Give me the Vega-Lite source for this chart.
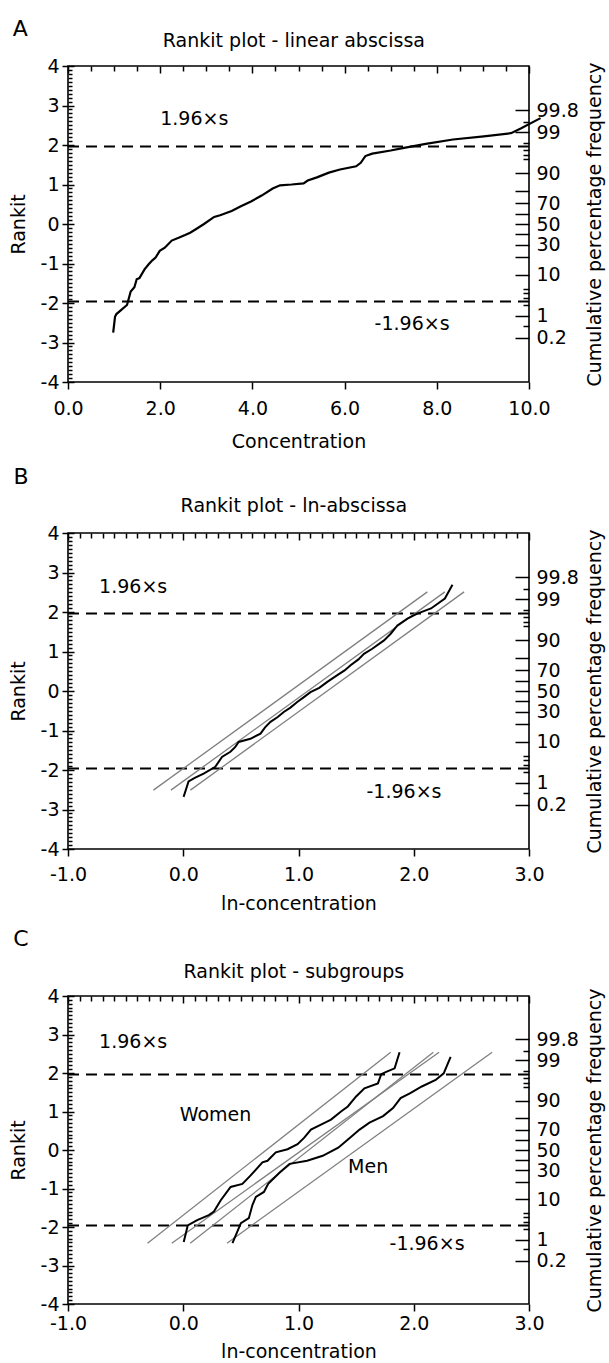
{
  "$schema": "https://vega.github.io/schema/vega-lite/v6.json",
  "padding": {"left": 8, "top": 17, "right": 2, "bottom": 2},
  "spacing": 13,
  "config": {
    "font": "DejaVu Sans",
    "view": {"stroke": "black", "strokeWidth": 1.6},
    "axis": {"grid": false, "domain": false, "labelFont": "DejaVu Sans", "labelFontSize": 19, "labelColor": "black", "titleFont": "DejaVu Sans", "titleFontSize": 19, "titleFontWeight": "normal", "titleColor": "black", "tickColor": "black", "tickWidth": 1.5, "labelFlush": false, "labelOverlap": false},
    "text": {"font": "DejaVu Sans", "color": "black"}
  },
  "datasets": {
    "one": [{}],
    "limits": [{"y": 1.96}, {"y": -1.96}],
    "curveA": [
      {"conc": 0.98, "rankit": -2.75}, {"conc": 1.02, "rankit": -2.35}, {"conc": 1.05, "rankit": -2.28}, {"conc": 1.15, "rankit": -2.18},
      {"conc": 1.28, "rankit": -2.05}, {"conc": 1.32, "rankit": -1.88}, {"conc": 1.36, "rankit": -1.71}, {"conc": 1.44, "rankit": -1.6},
      {"conc": 1.49, "rankit": -1.4}, {"conc": 1.55, "rankit": -1.37}, {"conc": 1.66, "rankit": -1.15}, {"conc": 1.75, "rankit": -1.02},
      {"conc": 1.83, "rankit": -0.92}, {"conc": 1.9, "rankit": -0.85}, {"conc": 1.99, "rankit": -0.68}, {"conc": 2.1, "rankit": -0.6},
      {"conc": 2.25, "rankit": -0.42}, {"conc": 2.4, "rankit": -0.35}, {"conc": 2.54, "rankit": -0.28}, {"conc": 2.65, "rankit": -0.22},
      {"conc": 2.79, "rankit": -0.12}, {"conc": 2.95, "rankit": 0.0}, {"conc": 3.17, "rankit": 0.18}, {"conc": 3.3, "rankit": 0.22},
      {"conc": 3.55, "rankit": 0.33}, {"conc": 3.75, "rankit": 0.45}, {"conc": 3.97, "rankit": 0.57}, {"conc": 4.2, "rankit": 0.72},
      {"conc": 4.44, "rankit": 0.9}, {"conc": 4.6, "rankit": 0.98}, {"conc": 4.85, "rankit": 1.0}, {"conc": 5.11, "rankit": 1.03},
      {"conc": 5.2, "rankit": 1.1}, {"conc": 5.4, "rankit": 1.18}, {"conc": 5.66, "rankit": 1.3}, {"conc": 5.9, "rankit": 1.38},
      {"conc": 6.25, "rankit": 1.46}, {"conc": 6.35, "rankit": 1.55}, {"conc": 6.45, "rankit": 1.72}, {"conc": 6.6, "rankit": 1.78},
      {"conc": 7.0, "rankit": 1.86}, {"conc": 7.26, "rankit": 1.92}, {"conc": 7.76, "rankit": 2.03}, {"conc": 8.35, "rankit": 2.14},
      {"conc": 9.02, "rankit": 2.22}, {"conc": 9.61, "rankit": 2.3}, {"conc": 9.82, "rankit": 2.42}, {"conc": 10.25, "rankit": 2.68}
    ],
    "curveB": [
      {"lnc": 0.003, "rankit": -2.68}, {"lnc": 0.046, "rankit": -2.29}, {"lnc": 0.1, "rankit": -2.2}, {"lnc": 0.177, "rankit": -2.09},
      {"lnc": 0.278, "rankit": -1.92}, {"lnc": 0.336, "rankit": -1.67}, {"lnc": 0.409, "rankit": -1.54}, {"lnc": 0.45, "rankit": -1.42},
      {"lnc": 0.481, "rankit": -1.29}, {"lnc": 0.583, "rankit": -1.21}, {"lnc": 0.67, "rankit": -1.08}, {"lnc": 0.71, "rankit": -0.92},
      {"lnc": 0.757, "rankit": -0.78}, {"lnc": 0.82, "rankit": -0.66}, {"lnc": 0.872, "rankit": -0.53}, {"lnc": 0.93, "rankit": -0.42},
      {"lnc": 0.989, "rankit": -0.28}, {"lnc": 1.05, "rankit": -0.15}, {"lnc": 1.104, "rankit": -0.03}, {"lnc": 1.18, "rankit": 0.08},
      {"lnc": 1.25, "rankit": 0.23}, {"lnc": 1.337, "rankit": 0.4}, {"lnc": 1.4, "rankit": 0.52}, {"lnc": 1.452, "rankit": 0.65},
      {"lnc": 1.52, "rankit": 0.8}, {"lnc": 1.568, "rankit": 0.94}, {"lnc": 1.64, "rankit": 1.07}, {"lnc": 1.742, "rankit": 1.28},
      {"lnc": 1.8, "rankit": 1.45}, {"lnc": 1.858, "rankit": 1.66}, {"lnc": 1.945, "rankit": 1.83}, {"lnc": 2.03, "rankit": 1.96},
      {"lnc": 2.15, "rankit": 2.09}, {"lnc": 2.27, "rankit": 2.34}, {"lnc": 2.336, "rankit": 2.69}
    ],
    "fitB": [
      {"line": "L1", "lnc": -0.259, "rankit": -2.51}, {"line": "L1", "lnc": 2.118, "rankit": 2.51},
      {"line": "L2", "lnc": -0.107, "rankit": -2.51}, {"line": "L2", "lnc": 2.27, "rankit": 2.51},
      {"line": "L3", "lnc": 0.062, "rankit": -2.51}, {"line": "L3", "lnc": 2.437, "rankit": 2.51}
    ],
    "curveC": [
      {"group": "Women", "lnc": 0.004, "rankit": -2.39}, {"group": "Women", "lnc": 0.039, "rankit": -1.96}, {"group": "Women", "lnc": 0.121, "rankit": -1.82},
      {"group": "Women", "lnc": 0.222, "rankit": -1.69}, {"group": "Women", "lnc": 0.266, "rankit": -1.6}, {"group": "Women", "lnc": 0.324, "rankit": -1.31},
      {"group": "Women", "lnc": 0.411, "rankit": -0.96}, {"group": "Women", "lnc": 0.513, "rankit": -0.88}, {"group": "Women", "lnc": 0.585, "rankit": -0.66},
      {"group": "Women", "lnc": 0.687, "rankit": -0.32}, {"group": "Women", "lnc": 0.731, "rankit": -0.28}, {"group": "Women", "lnc": 0.803, "rankit": -0.06},
      {"group": "Women", "lnc": 0.905, "rankit": 0.02}, {"group": "Women", "lnc": 0.992, "rankit": 0.15}, {"group": "Women", "lnc": 1.05, "rankit": 0.32},
      {"group": "Women", "lnc": 1.108, "rankit": 0.53}, {"group": "Women", "lnc": 1.195, "rankit": 0.66}, {"group": "Women", "lnc": 1.282, "rankit": 0.79},
      {"group": "Women", "lnc": 1.369, "rankit": 1.0}, {"group": "Women", "lnc": 1.428, "rankit": 1.13}, {"group": "Women", "lnc": 1.5, "rankit": 1.39},
      {"group": "Women", "lnc": 1.572, "rankit": 1.6}, {"group": "Women", "lnc": 1.689, "rankit": 1.73}, {"group": "Women", "lnc": 1.718, "rankit": 1.97},
      {"group": "Women", "lnc": 1.761, "rankit": 2.03}, {"group": "Women", "lnc": 1.834, "rankit": 2.12}, {"group": "Women", "lnc": 1.877, "rankit": 2.54},
      {"group": "Men", "lnc": 0.427, "rankit": -2.42}, {"group": "Men", "lnc": 0.5, "rankit": -1.9}, {"group": "Men", "lnc": 0.569, "rankit": -1.77},
      {"group": "Men", "lnc": 0.6, "rankit": -1.43}, {"group": "Men", "lnc": 0.63, "rankit": -1.22}, {"group": "Men", "lnc": 0.7, "rankit": -1.09},
      {"group": "Men", "lnc": 0.737, "rankit": -0.88}, {"group": "Men", "lnc": 0.839, "rankit": -0.58}, {"group": "Men", "lnc": 0.923, "rankit": -0.36},
      {"group": "Men", "lnc": 1.075, "rankit": -0.28}, {"group": "Men", "lnc": 1.21, "rankit": -0.15}, {"group": "Men", "lnc": 1.345, "rankit": 0.06},
      {"group": "Men", "lnc": 1.447, "rankit": 0.32}, {"group": "Men", "lnc": 1.53, "rankit": 0.53}, {"group": "Men", "lnc": 1.616, "rankit": 0.71},
      {"group": "Men", "lnc": 1.734, "rankit": 0.88}, {"group": "Men", "lnc": 1.82, "rankit": 1.09}, {"group": "Men", "lnc": 1.886, "rankit": 1.35},
      {"group": "Men", "lnc": 1.97, "rankit": 1.48}, {"group": "Men", "lnc": 2.07, "rankit": 1.65}, {"group": "Men", "lnc": 2.19, "rankit": 1.82},
      {"group": "Men", "lnc": 2.26, "rankit": 1.99}, {"group": "Men", "lnc": 2.32, "rankit": 2.42}
    ],
    "fitC": [
      {"line": "W1", "lnc": -0.31, "rankit": -2.42}, {"line": "W1", "lnc": 1.8, "rankit": 2.54},
      {"line": "W2", "lnc": 0.06, "rankit": -2.42}, {"line": "W2", "lnc": 2.17, "rankit": 2.54},
      {"line": "M1", "lnc": -0.1, "rankit": -2.42}, {"line": "M1", "lnc": 2.22, "rankit": 2.54},
      {"line": "M2", "lnc": 0.38, "rankit": -2.42}, {"line": "M2", "lnc": 2.68, "rankit": 2.54}
    ],
    "annotA": [{"label": "1.96×s", "x": 2.0, "y": 2.65}, {"label": "-1.96×s", "x": 6.65, "y": -2.52}],
    "annotB": [{"label": "1.96×s", "x": -0.73, "y": 2.63}, {"label": "-1.96×s", "x": 1.59, "y": -2.56}],
    "annotC": [{"label": "1.96×s", "x": -0.73, "y": 2.8}, {"label": "-1.96×s", "x": 1.79, "y": -2.45}, {"label": "Women", "x": -0.03, "y": 0.92}, {"label": "Men", "x": 1.43, "y": -0.44}]
  },
  "vconcat": [
    {
      "width": 461, "height": 316,
      "resolve": {"axis": {"x": "independent", "y": "independent"}},
      "layer": [
        {
          "data": {"name": "limits"},
          "mark": {"type": "rule", "color": "black", "strokeWidth": 2, "strokeDash": [11, 7]},
          "encoding": {
            "y": {"field": "y", "type": "quantitative", "scale": {"domain": [-4, 4], "nice": false, "zero": false},
              "axis": {"orient": "right", "ticks": false, "labelPadding": 7, "labelAlign": "left",
                "values": [2.8782, 2.3263, 1.2816, 0.5244, 0, -0.5244, -1.2816, -2.3263, -2.8782],
                "labelExpr": "datum.value > 2.8 ? '99.8' : datum.value > 2.3 ? '99' : datum.value > 1.2 ? '90' : datum.value > 0.5 ? '70' : datum.value > -0.1 ? '50' : datum.value > -0.6 ? '30' : datum.value > -1.3 ? '10' : datum.value > -2.4 ? '1' : '0.2'",
                "title": "Cumulative percentage frequency", "titleAngle": 270, "titleBaseline": "top", "titlePadding": 7}}
          }
        },
        {
          "data": {"name": "curveA"},
          "mark": {"type": "line", "color": "black", "strokeWidth": 2.2, "clip": false},
          "encoding": {
            "x": {"field": "conc", "type": "quantitative", "scale": {"domain": [0, 10], "nice": false, "zero": false},
              "axis": {"values": [0, 2, 4, 6, 8, 10], "tickSize": 7, "labelPadding": 10, "labelExpr": "format(datum.value, '.1f')", "title": "Concentration", "titlePadding": 14}},
            "y": {"field": "rankit", "type": "quantitative", "scale": {"domain": [-4, 4], "nice": false, "zero": false},
              "axis": {"values": [-4, -3, -2, -1, 0, 1, 2, 3, 4], "tickSize": 6, "labelPadding": 3, "labelExpr": "(datum.value < 0 ? '-' : '') + abs(datum.value)", "title": "Rankit", "titlePadding": 12}},
            "order": {"field": "rankit", "type": "quantitative"}
          }
        },
        {
          "data": {"name": "annotA"},
          "mark": {"type": "text", "align": "left", "baseline": "middle", "fontSize": 19},
          "encoding": {
            "x": {"field": "x", "type": "quantitative", "scale": {"domain": [0, 10], "nice": false, "zero": false},
              "axis": {"values": [0, 0.5, 1, 1.5, 2, 2.5, 3, 3.5, 4, 4.5, 5, 5.5, 6, 6.5, 7, 7.5, 8, 8.5, 9, 9.5, 10], "labels": false, "title": null,
                "tickSize": {"condition": {"test": "datum.value % 2 === 0", "value": -7}, "value": -5}}},
            "y": {"field": "y", "type": "quantitative", "scale": {"domain": [-4, 4], "nice": false, "zero": false},
              "axis": {"values": [-4, -3.9, -3.8, -3.7, -3.6, -3.5, -3.4, -3.3, -3.2, -3.1, -3, -2.9, -2.8, -2.7, -2.6, -2.5, -2.4, -2.3, -2.2, -2.1, -2, -1.9, -1.8, -1.7, -1.6, -1.5, -1.4, -1.3, -1.2, -1.1, -1, -0.9, -0.8, -0.7, -0.6, -0.5, -0.4, -0.3, -0.2, -0.1, 0, 0.1, 0.2, 0.3, 0.4, 0.5, 0.6, 0.7, 0.8, 0.9, 1, 1.1, 1.2, 1.3, 1.4, 1.5, 1.6, 1.7, 1.8, 1.9, 2, 2.1, 2.2, 2.3, 2.4, 2.5, 2.6, 2.7, 2.8, 2.9, 3, 3.1, 3.2, 3.3, 3.4, 3.5, 3.6, 3.7, 3.8, 3.9, 4], "labels": false, "title": null,
                "tickSize": {"condition": {"test": "abs(datum.value - round(datum.value)) < 0.01", "value": -6}, "value": -4}}},
            "text": {"field": "label"}
          }
        },
        {
          "data": {"name": "one"},
          "mark": {"type": "text", "align": "left", "baseline": "alphabetic", "fontSize": 22},
          "encoding": {
            "x": {"datum": -1.2, "type": "quantitative", "axis": null},
            "y": {"datum": 4.76, "type": "quantitative",
              "axis": {"orient": "right", "labels": false, "title": null,
                "values": [2.8782, 2.5758, 2.3263, 2.0537, 1.8808, 1.7507, 1.6449, 1.2816, 0.8416, 0.5244, 0.2533, 0, -0.2533, -0.5244, -0.8416, -1.2816, -1.6449, -1.7507, -1.8808, -2.0537, -2.3263, -2.5758, -2.8782],
                "tickSize": {"condition": {"test": "indexof([2.8782, 2.3263, 1.2816, 0.8416, 0.5244, 0.2533, 0, -0.2533, -0.5244, -0.8416, -1.2816, -2.3263, -2.8782], datum.value) >= 0", "value": -14}, "value": -6}}},
            "text": {"value": "A"}
          }
        },
        {
          "data": {"name": "one"},
          "mark": {"type": "text", "align": "center", "baseline": "alphabetic", "fontSize": 19},
          "encoding": {
            "x": {"datum": 4.9, "type": "quantitative", "axis": null},
            "y": {"datum": 4.48, "type": "quantitative", "axis": null},
            "text": {"value": "Rankit plot - linear abscissa"}
          }
        }
      ]
    },
    {
      "width": 461, "height": 316,
      "resolve": {"axis": {"x": "independent", "y": "independent"}},
      "layer": [
        {
          "data": {"name": "limits"},
          "mark": {"type": "rule", "color": "black", "strokeWidth": 2, "strokeDash": [11, 7]},
          "encoding": {
            "y": {"field": "y", "type": "quantitative", "scale": {"domain": [-4, 4], "nice": false, "zero": false},
              "axis": {"orient": "right", "ticks": false, "labelPadding": 7, "labelAlign": "left",
                "values": [2.8782, 2.3263, 1.2816, 0.5244, 0, -0.5244, -1.2816, -2.3263, -2.8782],
                "labelExpr": "datum.value > 2.8 ? '99.8' : datum.value > 2.3 ? '99' : datum.value > 1.2 ? '90' : datum.value > 0.5 ? '70' : datum.value > -0.1 ? '50' : datum.value > -0.6 ? '30' : datum.value > -1.3 ? '10' : datum.value > -2.4 ? '1' : '0.2'",
                "title": "Cumulative percentage frequency", "titleAngle": 270, "titleBaseline": "top", "titlePadding": 7}}
          }
        },
        {
          "data": {"name": "fitB"},
          "mark": {"type": "line", "color": "#808080", "strokeWidth": 1.3, "clip": false},
          "encoding": {
            "x": {"field": "lnc", "type": "quantitative", "scale": {"domain": [-1, 3], "nice": false, "zero": false}, "axis": null},
            "y": {"field": "rankit", "type": "quantitative", "scale": {"domain": [-4, 4], "nice": false, "zero": false}, "axis": null},
            "detail": {"field": "line"}
          }
        },
        {
          "data": {"name": "curveB"},
          "mark": {"type": "line", "color": "black", "strokeWidth": 2, "clip": false},
          "encoding": {
            "x": {"field": "lnc", "type": "quantitative", "scale": {"domain": [-1, 3], "nice": false, "zero": false},
              "axis": {"values": [-1, 0, 1, 2, 3], "tickSize": 7, "labelPadding": 9, "labelExpr": "(datum.value < 0 ? '-' : '') + format(abs(datum.value), '.1f')", "title": "ln-concentration", "titlePadding": 10}},
            "y": {"field": "rankit", "type": "quantitative", "scale": {"domain": [-4, 4], "nice": false, "zero": false},
              "axis": {"values": [-4, -3, -2, -1, 0, 1, 2, 3, 4], "tickSize": 6, "labelPadding": 3, "labelExpr": "(datum.value < 0 ? '-' : '') + abs(datum.value)", "title": "Rankit", "titlePadding": 12}},
            "order": {"field": "rankit", "type": "quantitative"}
          }
        },
        {
          "data": {"name": "annotB"},
          "mark": {"type": "text", "align": "left", "baseline": "middle", "fontSize": 19},
          "encoding": {
            "x": {"field": "x", "type": "quantitative", "scale": {"domain": [-1, 3], "nice": false, "zero": false},
              "axis": {"values": [-1, -0.9, -0.8, -0.7, -0.6, -0.5, -0.4, -0.3, -0.2, -0.1, 0, 0.1, 0.2, 0.3, 0.4, 0.5, 0.6, 0.7, 0.8, 0.9, 1, 1.1, 1.2, 1.3, 1.4, 1.5, 1.6, 1.7, 1.8, 1.9, 2, 2.1, 2.2, 2.3, 2.4, 2.5, 2.6, 2.7, 2.8, 2.9, 3], "labels": false, "title": null,
                "tickSize": {"condition": {"test": "abs(datum.value - round(datum.value)) < 0.01", "value": -7}, "value": -5}}},
            "y": {"field": "y", "type": "quantitative", "scale": {"domain": [-4, 4], "nice": false, "zero": false},
              "axis": {"values": [-4, -3.9, -3.8, -3.7, -3.6, -3.5, -3.4, -3.3, -3.2, -3.1, -3, -2.9, -2.8, -2.7, -2.6, -2.5, -2.4, -2.3, -2.2, -2.1, -2, -1.9, -1.8, -1.7, -1.6, -1.5, -1.4, -1.3, -1.2, -1.1, -1, -0.9, -0.8, -0.7, -0.6, -0.5, -0.4, -0.3, -0.2, -0.1, 0, 0.1, 0.2, 0.3, 0.4, 0.5, 0.6, 0.7, 0.8, 0.9, 1, 1.1, 1.2, 1.3, 1.4, 1.5, 1.6, 1.7, 1.8, 1.9, 2, 2.1, 2.2, 2.3, 2.4, 2.5, 2.6, 2.7, 2.8, 2.9, 3, 3.1, 3.2, 3.3, 3.4, 3.5, 3.6, 3.7, 3.8, 3.9, 4], "labels": false, "title": null,
                "tickSize": {"condition": {"test": "abs(datum.value - round(datum.value)) < 0.01", "value": -6}, "value": -4}}},
            "text": {"field": "label"}
          }
        },
        {
          "data": {"name": "one"},
          "mark": {"type": "text", "align": "left", "baseline": "alphabetic", "fontSize": 22},
          "encoding": {
            "x": {"datum": -1.473, "type": "quantitative", "axis": null},
            "y": {"datum": 5.24, "type": "quantitative",
              "axis": {"orient": "right", "labels": false, "title": null,
                "values": [2.8782, 2.5758, 2.3263, 2.0537, 1.8808, 1.7507, 1.6449, 1.2816, 0.8416, 0.5244, 0.2533, 0, -0.2533, -0.5244, -0.8416, -1.2816, -1.6449, -1.7507, -1.8808, -2.0537, -2.3263, -2.5758, -2.8782],
                "tickSize": {"condition": {"test": "indexof([2.8782, 2.3263, 1.2816, 0.8416, 0.5244, 0.2533, 0, -0.2533, -0.5244, -0.8416, -1.2816, -2.3263, -2.8782], datum.value) >= 0", "value": -14}, "value": -6}}},
            "text": {"value": "B"}
          }
        },
        {
          "data": {"name": "one"},
          "mark": {"type": "text", "align": "center", "baseline": "alphabetic", "fontSize": 19},
          "encoding": {
            "x": {"datum": 0.96, "type": "quantitative", "axis": null},
            "y": {"datum": 4.53, "type": "quantitative", "axis": null},
            "text": {"value": "Rankit plot - ln-abscissa"}
          }
        }
      ]
    },
    {
      "width": 461, "height": 308,
      "resolve": {"axis": {"x": "independent", "y": "independent"}},
      "layer": [
        {
          "data": {"name": "limits"},
          "mark": {"type": "rule", "color": "black", "strokeWidth": 2, "strokeDash": [11, 7]},
          "encoding": {
            "y": {"field": "y", "type": "quantitative", "scale": {"domain": [-4, 4], "nice": false, "zero": false},
              "axis": {"orient": "right", "ticks": false, "labelPadding": 7, "labelAlign": "left",
                "values": [2.8782, 2.3263, 1.2816, 0.5244, 0, -0.5244, -1.2816, -2.3263, -2.8782],
                "labelExpr": "datum.value > 2.8 ? '99.8' : datum.value > 2.3 ? '99' : datum.value > 1.2 ? '90' : datum.value > 0.5 ? '70' : datum.value > -0.1 ? '50' : datum.value > -0.6 ? '30' : datum.value > -1.3 ? '10' : datum.value > -2.4 ? '1' : '0.2'",
                "title": "Cumulative percentage frequency", "titleAngle": 270, "titleBaseline": "top", "titlePadding": 7}}
          }
        },
        {
          "data": {"name": "fitC"},
          "mark": {"type": "line", "color": "#808080", "strokeWidth": 1.3, "clip": false},
          "encoding": {
            "x": {"field": "lnc", "type": "quantitative", "scale": {"domain": [-1, 3], "nice": false, "zero": false}, "axis": null},
            "y": {"field": "rankit", "type": "quantitative", "scale": {"domain": [-4, 4], "nice": false, "zero": false}, "axis": null},
            "detail": {"field": "line"}
          }
        },
        {
          "data": {"name": "curveC"},
          "mark": {"type": "line", "color": "black", "strokeWidth": 2, "clip": false},
          "encoding": {
            "x": {"field": "lnc", "type": "quantitative", "scale": {"domain": [-1, 3], "nice": false, "zero": false},
              "axis": {"values": [-1, 0, 1, 2, 3], "tickSize": 7, "labelPadding": 3, "labelExpr": "(datum.value < 0 ? '-' : '') + format(abs(datum.value), '.1f')", "title": "ln-concentration", "titlePadding": 9}},
            "y": {"field": "rankit", "type": "quantitative", "scale": {"domain": [-4, 4], "nice": false, "zero": false},
              "axis": {"values": [-4, -3, -2, -1, 0, 1, 2, 3, 4], "tickSize": 6, "labelPadding": 3, "labelExpr": "(datum.value < 0 ? '-' : '') + abs(datum.value)", "title": "Rankit", "titlePadding": 12}},
            "detail": {"field": "group"},
            "order": {"field": "rankit", "type": "quantitative"}
          }
        },
        {
          "data": {"name": "annotC"},
          "mark": {"type": "text", "align": "left", "baseline": "middle", "fontSize": 19},
          "encoding": {
            "x": {"field": "x", "type": "quantitative", "scale": {"domain": [-1, 3], "nice": false, "zero": false},
              "axis": {"values": [-1, -0.9, -0.8, -0.7, -0.6, -0.5, -0.4, -0.3, -0.2, -0.1, 0, 0.1, 0.2, 0.3, 0.4, 0.5, 0.6, 0.7, 0.8, 0.9, 1, 1.1, 1.2, 1.3, 1.4, 1.5, 1.6, 1.7, 1.8, 1.9, 2, 2.1, 2.2, 2.3, 2.4, 2.5, 2.6, 2.7, 2.8, 2.9, 3], "labels": false, "title": null,
                "tickSize": {"condition": {"test": "abs(datum.value - round(datum.value)) < 0.01", "value": -7}, "value": -5}}},
            "y": {"field": "y", "type": "quantitative", "scale": {"domain": [-4, 4], "nice": false, "zero": false},
              "axis": {"values": [-4, -3.9, -3.8, -3.7, -3.6, -3.5, -3.4, -3.3, -3.2, -3.1, -3, -2.9, -2.8, -2.7, -2.6, -2.5, -2.4, -2.3, -2.2, -2.1, -2, -1.9, -1.8, -1.7, -1.6, -1.5, -1.4, -1.3, -1.2, -1.1, -1, -0.9, -0.8, -0.7, -0.6, -0.5, -0.4, -0.3, -0.2, -0.1, 0, 0.1, 0.2, 0.3, 0.4, 0.5, 0.6, 0.7, 0.8, 0.9, 1, 1.1, 1.2, 1.3, 1.4, 1.5, 1.6, 1.7, 1.8, 1.9, 2, 2.1, 2.2, 2.3, 2.4, 2.5, 2.6, 2.7, 2.8, 2.9, 3, 3.1, 3.2, 3.3, 3.4, 3.5, 3.6, 3.7, 3.8, 3.9, 4], "labels": false, "title": null,
                "tickSize": {"condition": {"test": "abs(datum.value - round(datum.value)) < 0.01", "value": -6}, "value": -4}}},
            "text": {"field": "label"}
          }
        },
        {
          "data": {"name": "one"},
          "mark": {"type": "text", "align": "left", "baseline": "alphabetic", "fontSize": 22},
          "encoding": {
            "x": {"datum": -1.474, "type": "quantitative", "axis": null},
            "y": {"datum": 5.3, "type": "quantitative",
              "axis": {"orient": "right", "labels": false, "title": null,
                "values": [2.8782, 2.5758, 2.3263, 2.0537, 1.8808, 1.7507, 1.6449, 1.2816, 0.8416, 0.5244, 0.2533, 0, -0.2533, -0.5244, -0.8416, -1.2816, -1.6449, -1.7507, -1.8808, -2.0537, -2.3263, -2.5758, -2.8782],
                "tickSize": {"condition": {"test": "indexof([2.8782, 2.3263, 1.2816, 0.8416, 0.5244, 0.2533, 0, -0.2533, -0.5244, -0.8416, -1.2816, -2.3263, -2.8782], datum.value) >= 0", "value": -14}, "value": -6}}},
            "text": {"value": "C"}
          }
        },
        {
          "data": {"name": "one"},
          "mark": {"type": "text", "align": "center", "baseline": "alphabetic", "fontSize": 19},
          "encoding": {
            "x": {"datum": 0.96, "type": "quantitative", "axis": null},
            "y": {"datum": 4.47, "type": "quantitative", "axis": null},
            "text": {"value": "Rankit plot - subgroups"}
          }
        }
      ]
    }
  ]
}
